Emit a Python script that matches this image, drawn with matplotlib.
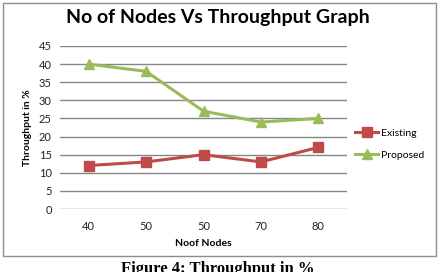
import matplotlib
matplotlib.use("Agg")
import matplotlib.pyplot as plt
from matplotlib.patches import Rectangle

# data
nodes = ["40", "50", "50", "70", "80"]
existing = [12, 13, 15, 13, 17]
proposed = [40, 38, 27, 24, 25]
y_ticks = [0, 5, 10, 15, 20, 25, 30, 35, 40, 45]

plt.rcParams['font.family'] = ['Lato', 'DejaVu Sans']

W, H = 445, 272
fig = plt.figure(figsize=(W / 100, H / 100), dpi=100)

# outer chart frame
fig.patches.append(Rectangle((3 / W, 1 - 256 / H), 433 / W, 253 / H,
                             transform=fig.transFigure, fill=False,
                             edgecolor='#8c8c8c', linewidth=1.0))

ax = fig.add_axes([60 / W, 1 - 209 / H, 287 / W, 163 / H])
x = range(len(nodes))
ax.plot(x, existing, color='#BE4B48', linewidth=2.2, marker='s',
        markersize=6.5, label='Existing')
ax.plot(x, proposed, color='#9BBB59', linewidth=2.2, marker='^',
        markersize=6.5, label='Proposed')

ax.set_xlim(-0.5, len(nodes) - 0.5)
ax.set_ylim(0, 45)
ax.set_yticks(y_ticks)
ax.set_xticks(list(x))
ax.set_xticklabels(nodes)
ax.yaxis.grid(True, color='#868686', linewidth=1.0)
ax.set_axisbelow(True)
for s in ax.spines.values():
    s.set_visible(False)
ax.tick_params(axis='both', length=0, labelsize=8, colors='#222222')
ax.tick_params(axis='y', pad=6)
ax.tick_params(axis='x', pad=9)

ax.set_xlabel('Noof Nodes', fontsize=7.5, fontweight='bold', labelpad=5)
ax.set_ylabel('Throughput in %', fontsize=7.5, fontweight='bold', labelpad=5)

fig.text(218 / W, 1 - 18 / H, 'No of Nodes Vs Throughput Graph',
         ha='center', va='center', fontsize=14, fontweight='bold')

fig.legend(loc='center left', bbox_to_anchor=(350 / W, 1 - 144 / H),
           frameon=False, fontsize=7.5, handlelength=2.2,
           labelspacing=1.2, handletextpad=0.3, borderpad=0)

# caption, cut off by the bottom edge as in the reference
fig.text(218 / W, 1 - 261 / H, 'Figure 4: Throughput in %',
         ha='center', va='top', fontsize=12, fontweight='bold',
         family='Liberation Serif')

fig.savefig('out.png', dpi=100)
